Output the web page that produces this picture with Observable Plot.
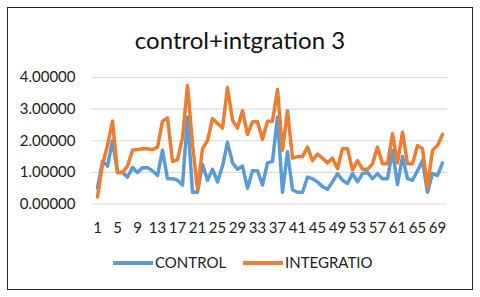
<!DOCTYPE html>
<html>
<head>
<meta charset="utf-8">
<script src="https://cdn.jsdelivr.net/npm/d3@7"></script>
<script src="https://cdn.jsdelivr.net/npm/@observablehq/plot@0.6"></script>
<style>
  html, body { margin: 0; padding: 0; background: #fff; }
  body { width: 480px; height: 297px; position: relative; overflow: hidden; font-family: Lato, "Noto Sans", sans-serif; }
  #frame { position: absolute; left: 7px; top: 7px; width: 464px; height: 281px; border: 1.5px solid #262626; }
  #title { position: absolute; left: 0; top: 25px; width: 480px; text-align: center; font-size: 24px; color: #111; }
  #chart { position: absolute; left: 0; top: 0; }
  #legend { position: absolute; left: 0; top: 253px; width: 480px; font-size: 15px; color: #222; }
  .item { position: absolute; top: 0; height: 18px; line-height: 18px; white-space: nowrap; }
  .sw { display: inline-block; width: 40px; height: 3.5px; vertical-align: middle; margin-right: 2px; position: relative; top: -1px; }
</style>
</head>
<body>
<div id="frame"></div>
<div id="title">control+intgration 3</div>
<div id="chart"></div>
<div id="legend"></div>
<script>
const categories = [1,2,3,4,5,6,7,8,9,10,11,12,13,14,15,16,17,18,19,20,
  21,22,23,24,25,26,27,28,29,30,31,32,33,34,35,36,37,38,39,40,
  41,42,43,44,45,46,47,48,49,50,51,52,53,54,55,56,57,58,59,60,
  61,62,63,64,65,66,67,68,69,70];

const control = [0.50,1.35,1.20,2.00,1.00,1.00,0.85,1.15,1.00,1.15,
  1.15,1.05,0.90,1.70,0.80,0.80,0.75,0.60,2.75,0.37,
  0.37,1.25,0.75,1.10,0.70,1.20,1.95,1.30,1.10,1.20,
  0.50,1.05,1.05,0.60,1.30,1.35,2.75,0.37,1.65,0.45,
  0.37,0.37,0.85,0.80,0.70,0.55,0.47,0.70,0.96,0.75,
  0.65,0.96,0.70,0.96,1.00,0.80,0.96,0.80,0.80,1.69,
  0.62,1.50,0.80,0.75,1.05,1.37,0.37,0.96,0.90,1.30];

const integratio = [0.22,1.25,1.85,2.62,1.00,1.00,1.20,1.70,1.72,1.75,
  1.75,1.72,1.80,2.62,2.72,1.35,1.40,2.10,3.75,1.90,
  0.45,1.75,2.00,2.70,2.55,2.40,3.68,2.65,2.40,2.95,
  2.20,2.60,2.60,2.05,2.62,2.62,3.62,1.70,2.95,1.45,
  1.50,1.50,1.80,1.37,1.58,1.45,1.30,1.45,1.12,1.75,
  1.75,1.08,1.37,1.10,1.10,1.27,1.80,1.27,1.27,2.22,
  1.30,2.27,1.27,1.27,1.85,1.75,0.53,1.70,1.85,2.20];

const seriesNames = ["CONTROL", "INTEGRATIO"];
const seriesColors = ["#5B9BD5", "#ED7D31"];
const xTicks = [1,5,9,13,17,21,25,29,33,37,41,45,49,53,57,61,65,69];
const yTicks = [0,1,2,3,4];

const rows = categories.map((c, i) => ({x: c, CONTROL: control[i], INTEGRATIO: integratio[i]}));

const chart = Plot.plot({
  width: 480,
  height: 240,
  marginLeft: 92,
  marginRight: 33,
  marginTop: 77,
  marginBottom: 36.5,
  style: {fontSize: "15px", fontFamily: "Lato, 'Noto Sans', sans-serif", color: "#222", background: "transparent"},
  x: {type: "point", domain: categories, padding: 0.5},
  y: {domain: [0, 4]},
  marks: [
    Plot.gridY(yTicks, {stroke: "#d9d9d9", strokeOpacity: 1, strokeWidth: 1.2}),
    Plot.axisY(yTicks, {tickSize: 0, tickPadding: 17, tickFormat: d3.format(".5f"), label: null}),
    Plot.axisX(xTicks, {tickSize: 0, tickPadding: 18, label: null}),
    Plot.lineY(rows, {x: "x", y: "CONTROL", stroke: seriesColors[0], strokeWidth: 3.5}),
    Plot.lineY(rows, {x: "x", y: "INTEGRATIO", stroke: seriesColors[1], strokeWidth: 3.5})
  ]
});
document.getElementById("chart").appendChild(chart);

const legend = document.getElementById("legend");
const lefts = [113, 243];
seriesNames.forEach((name, i) => {
  const item = document.createElement("div");
  item.className = "item";
  item.style.left = lefts[i] + "px";
  item.innerHTML = `<span class="sw" style="background:${seriesColors[i]}"></span>${name}`;
  legend.appendChild(item);
});
</script>
</body>
</html>
